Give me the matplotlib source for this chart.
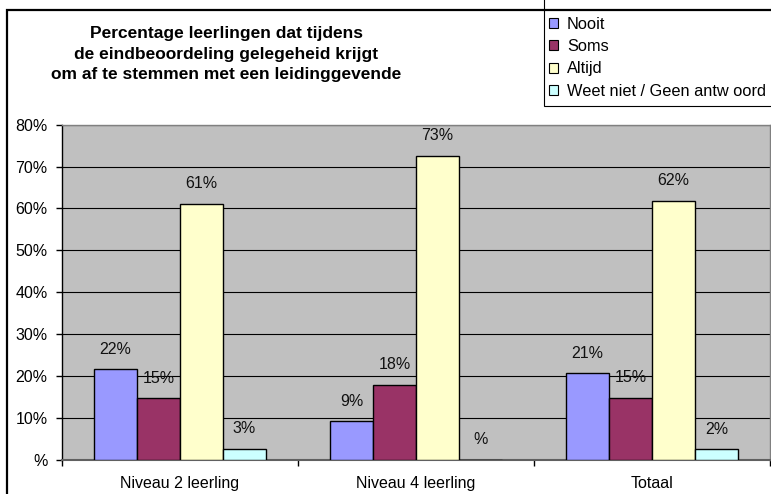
import matplotlib
matplotlib.use("Agg")
import matplotlib.pyplot as plt
import numpy as np
from matplotlib.patches import Rectangle, Patch

categories = ["Niveau 2 leerling", "Niveau 4 leerling", "Totaal"]
series_names = ["Nooit", "Soms", "Altijd", "Weet niet / Geen antw oord"]
nooit = [21.6, 9.1, 20.6]
soms = [14.6, 17.9, 14.7]
altijd = [61.1, 72.6, 61.8]
weet = [2.6, 0.0, 2.4]
series = [nooit, soms, altijd, weet]
colors = ["#9999FF", "#993366", "#FFFFCC", "#CCFFFF"]
yticks = [0, 10, 20, 30, 40, 50, 60, 70, 80]
title_lines = ["Percentage leerlingen dat tijdens",
               "de eindbeoordeling gelegeheid krijgt",
               "om af te stemmen met een leidinggevende"]


def pct(v):
    r = int(np.floor(v + 0.5))
    return f"{r}%" if r != 0 else "%"


plt.rcParams['font.family'] = ['Liberation Sans', 'DejaVu Sans']

W, H = 771, 494
fig = plt.figure(figsize=(W / 100, H / 100), dpi=100)
fig.patch.set_facecolor("white")

ax = fig.add_axes([62 / W, (H - 459.5) / H, 708 / W, (459.5 - 124.7) / H])
ax.set_facecolor("#C0C0C0")

x = np.arange(len(categories))
bw = 0.182
for i, (vals, col) in enumerate(zip(series, colors)):
    pos = x + (i - 1.5) * bw
    ax.bar(pos, vals, width=bw, color=col, edgecolor="black", linewidth=1.0, zorder=3)
    for p, v in zip(pos, vals):
        ax.annotate(pct(v), (p, v), xytext=(0, 20), textcoords="offset pixels",
                    ha="center", va="center", fontsize=11.5, color="#111111", zorder=4)

ax.set_xlim(-0.5, 2.5)
ax.set_ylim(0, 80)
ax.set_yticks(yticks)
ax.set_yticklabels([pct(v) for v in yticks], fontsize=11.5)
ax.yaxis.grid(True, color="black", linewidth=0.8, zorder=1)
ax.set_axisbelow(True)

ax.set_xticks(x)
ax.set_xticklabels(categories, fontsize=11.5)
ax.tick_params(axis="x", which="major", length=0, pad=12)
ax.set_xticks([-0.5, 0.5, 1.5, 2.5], minor=True)
ax.tick_params(axis="x", which="minor", length=4, width=1, color="black", direction="out")
ax.tick_params(axis="y", length=4.5, width=1, color="black", direction="out", pad=6)

ax.spines["left"].set_color("black")
ax.spines["left"].set_linewidth(1.0)
ax.spines["bottom"].set_color("#606060")
ax.spines["bottom"].set_linewidth(1.5)
for s in ("top", "right"):
    ax.spines[s].set_color("#808080")
    ax.spines[s].set_linewidth(1.0)

# Title
fig.text(226 / W, (H - 54) / H, "\n".join(title_lines), ha="center", va="center",
         fontsize=12.5, fontweight="bold", linespacing=1.42, transform=fig.transFigure)

# Outer border
fig.add_artist(Rectangle((7 / W, -0.1), 1.2, (H - 10) / H + 0.1, transform=fig.transFigure,
                         fill=False, edgecolor="black", linewidth=1.6, zorder=10))

# Legend frame
fig.add_artist(Rectangle((544 / W, (H - 106) / H), 0.5, 0.5, transform=fig.transFigure,
                         facecolor="white", edgecolor="black", linewidth=0.8, zorder=5))
handles = [Patch(facecolor=c, edgecolor="black", linewidth=0.8) for c in colors]
leg = fig.legend(handles, series_names, loc="upper left",
                 bbox_to_anchor=(549 / W, (H - 17) / H), frameon=False,
                 fontsize=11.8, handlelength=0.55, handleheight=0.55,
                 handletextpad=0.55, labelspacing=0.44, borderpad=0, borderaxespad=0)
leg.set_zorder(11)

fig.savefig("out.png", dpi=100)
